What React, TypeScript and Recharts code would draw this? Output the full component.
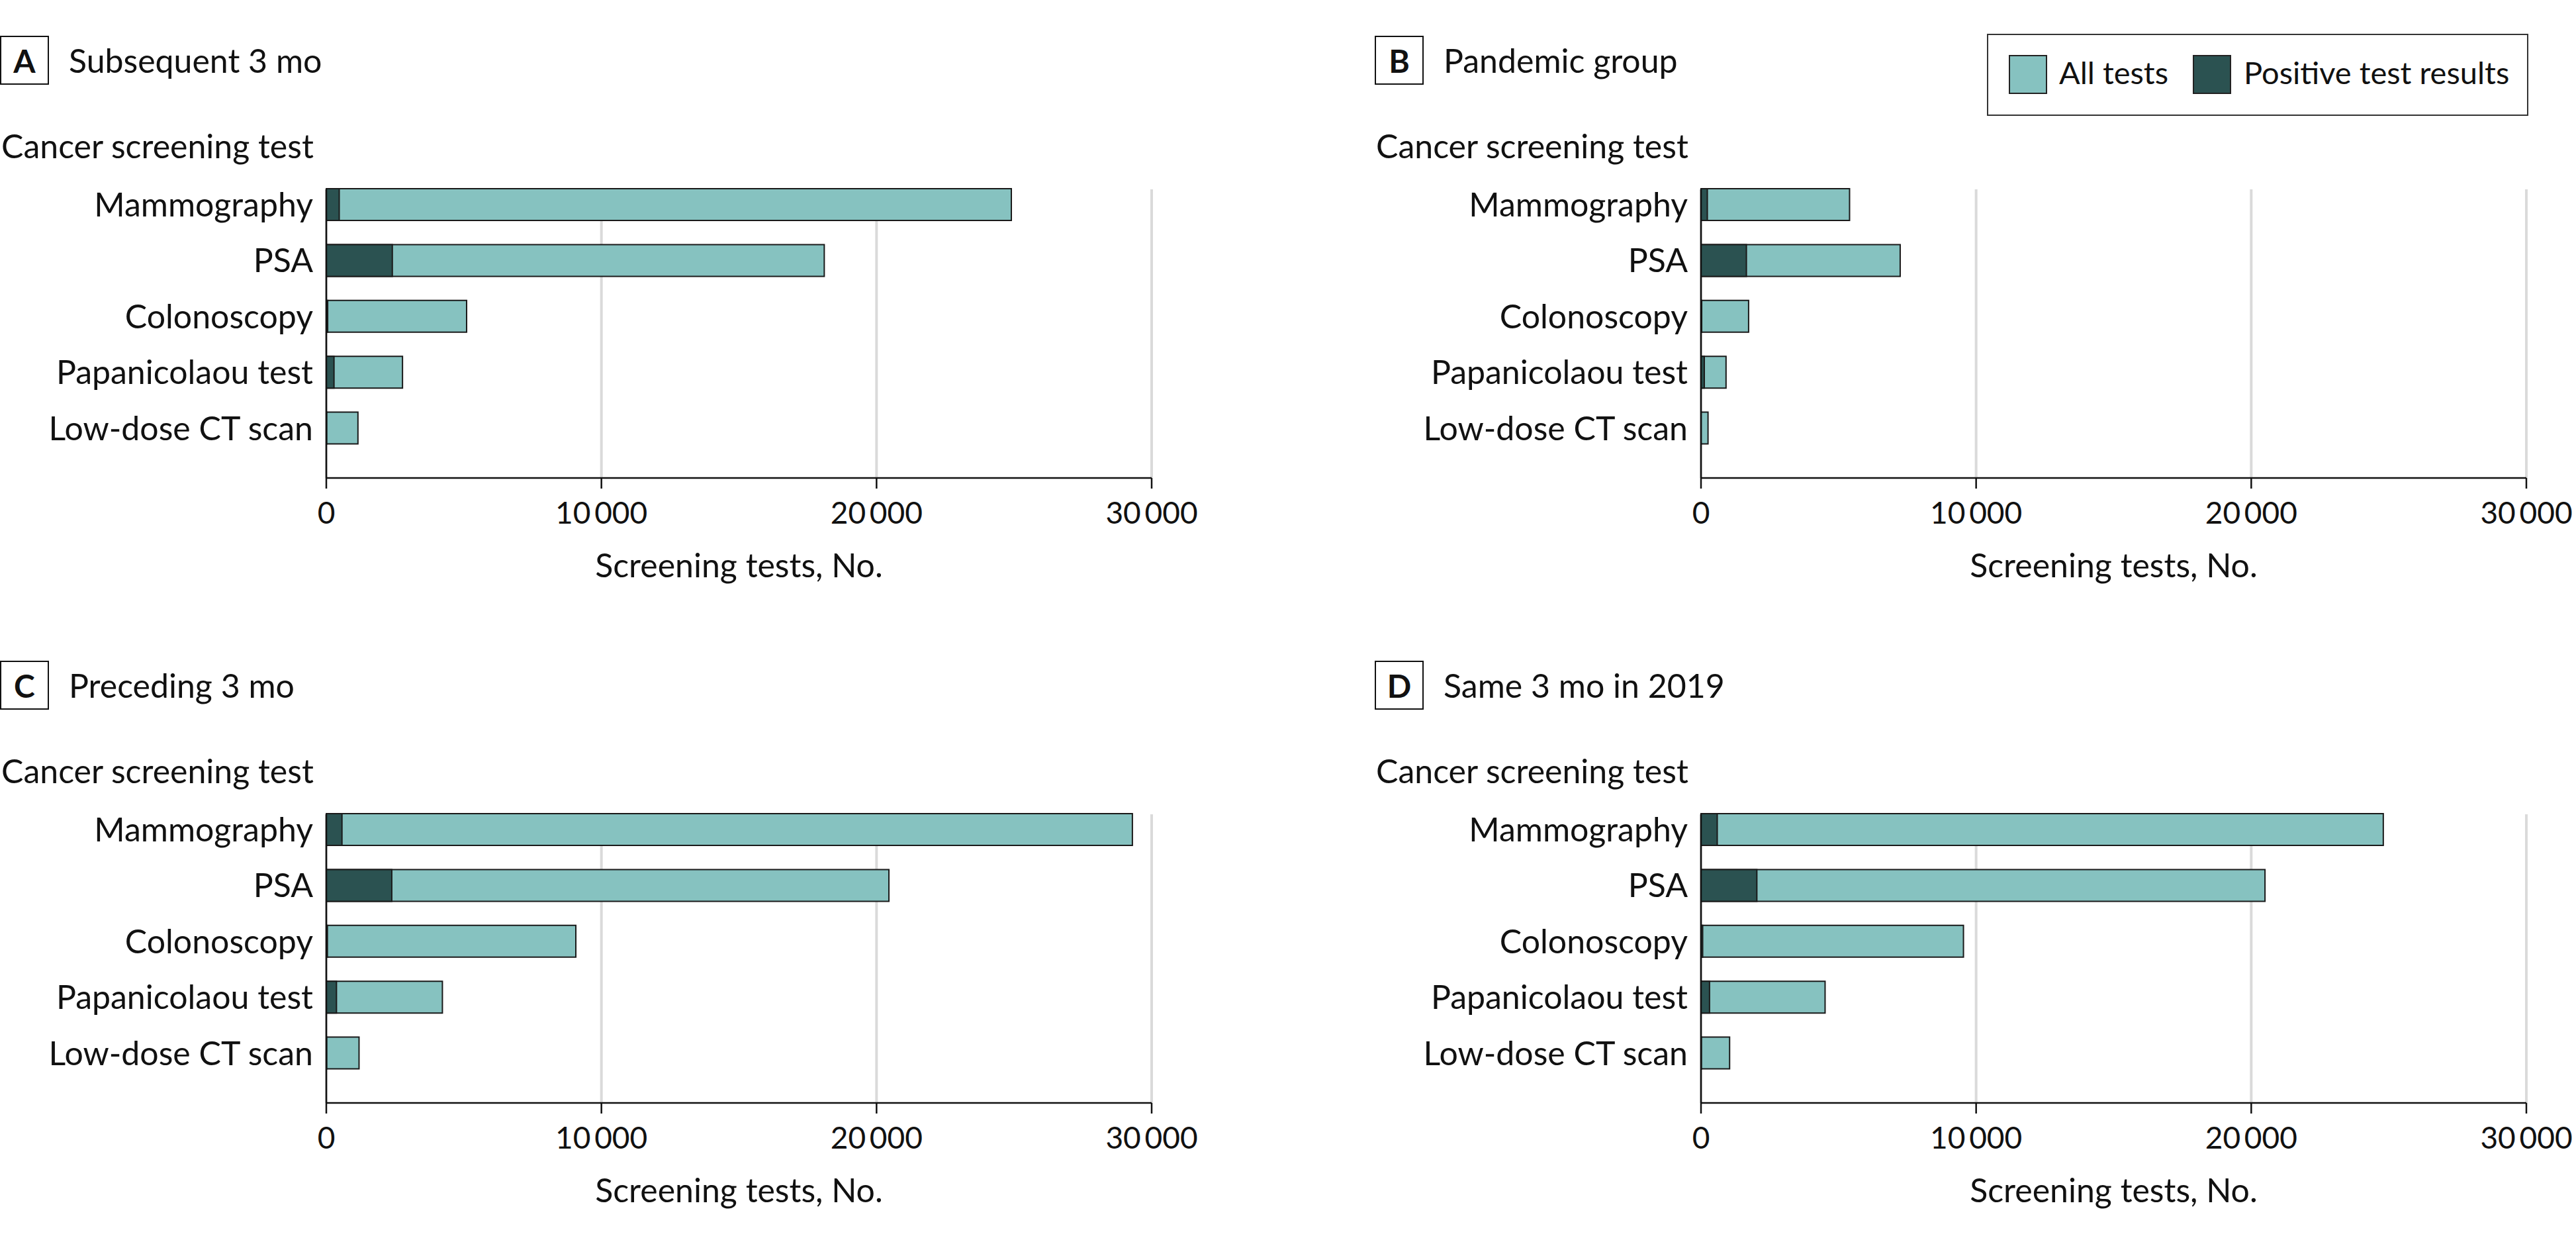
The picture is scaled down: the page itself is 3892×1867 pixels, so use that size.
import { BarChart, Bar, XAxis, YAxis, CartesianGrid } from 'recharts'

const categories = ['Mammography', 'PSA', 'Colonoscopy', 'Papanicolaou test', 'Low-dose CT scan']

const subsequentAll = [24900, 18100, 5100, 2770, 1150]
const subsequentPositive = [470, 2400, 50, 280, 15]

const pandemicAll = [5400, 7240, 1730, 910, 255]
const pandemicPositive = [230, 1650, 25, 120, 5]

const precedingAll = [29300, 20450, 9070, 4220, 1190]
const precedingPositive = [570, 2380, 40, 370, 15]

const sameAll = [24800, 20500, 9540, 4510, 1040]
const samePositive = [590, 2030, 60, 310, 15]

const xTicks = [0, 10000, 20000, 30000]

const LIGHT = '#86c2c0'
const DARK = '#2b5251'
const EDGE = '#1a1a1a'
const FONT = 'Lato, "Liberation Sans", Arial, sans-serif'

const fmt = (v: number) => String(v).replace(/\B(?=(\d{3})+(?!\d))/g, '\u2009')

interface PanelProps {
  left: number
  top: number
  width: number
  letter: string
  title: string
  all: number[]
  positive: number[]
}

function Panel({ left, top, width, letter, title, all, positive }: PanelProps) {
  const data = categories.map((name, i) => ({ name, all: all[i], positive: positive[i] }))
  const plotRight = 1740

  return (
    <div style={{ position: 'absolute', left, top, width, height: 920 }}>
      <div
        style={{
          position: 'absolute', left: 0, top: 54, width: 70, height: 70,
          border: '2px solid #111', display: 'flex', alignItems: 'center',
          justifyContent: 'center', fontWeight: 700, fontSize: 48, color: '#111',
        }}
      >
        {letter}
      </div>
      <div style={{ position: 'absolute', left: 104, top: 59, fontSize: 50, lineHeight: '64px', color: '#111', whiteSpace: 'nowrap' }}>
        {title}
      </div>
      <div style={{ position: 'absolute', left: 2, top: 188, fontSize: 50, lineHeight: '64px', color: '#111', whiteSpace: 'nowrap' }}>
        Cancer screening test
      </div>
      <div style={{ position: 'absolute', left: 0, top: 0 }}>
        <BarChart
          width={width}
          height={920}
          data={data}
          layout="vertical"
          barSize={48}
          barGap={-48}
          margin={{ top: 286, right: width - plotRight, bottom: 0, left: 0 }}
        >
          <CartesianGrid horizontal={false} stroke="#dadada" strokeWidth={4} />
          <XAxis
            type="number"
            domain={[0, 30000]}
            ticks={xTicks}
            tickFormatter={fmt}
            height={198}
            tickSize={16}
            tickMargin={20}
            axisLine={{ stroke: '#111', strokeWidth: 2.5 }}
            tickLine={{ stroke: '#111', strokeWidth: 2.5 }}
            tick={{ fontSize: 46, fill: '#111', fontFamily: FONT }}
            label={{ value: 'Screening tests, No.', position: 'insideBottom', offset: 48, fontSize: 50, fill: '#111', fontFamily: FONT }}
          />
          <YAxis
            type="category"
            dataKey="name"
            width={493}
            padding={{ top: -19, bottom: 33 }}
            tickSize={0}
            tickMargin={20}
            tickLine={false}
            axisLine={{ stroke: '#111', strokeWidth: 2.5 }}
            tick={{ fontSize: 50, fill: '#111', fontFamily: FONT }}
            interval={0}
          />
          <Bar dataKey="all" name="All tests" fill={LIGHT} stroke={EDGE} strokeWidth={2} isAnimationActive={false} />
          <Bar dataKey="positive" name="Positive test results" fill={DARK} stroke={EDGE} strokeWidth={2} isAnimationActive={false} />
        </BarChart>
      </div>
    </div>
  )
}

function LegendBox() {
  const swatch = (color: string, x: number) => (
    <div style={{ position: 'absolute', left: x, top: 30, width: 54, height: 55, background: color, border: '2px solid #222' }} />
  )
  const label = (text: string, x: number) => (
    <div style={{ position: 'absolute', left: x, top: 24, fontSize: 47, lineHeight: '64px', color: '#111', whiteSpace: 'nowrap' }}>{text}</div>
  )
  return (
    <div style={{ position: 'absolute', left: 3002, top: 51, width: 814, height: 120, border: '2px solid #333' }}>
      {swatch(LIGHT, 31)}
      {label('All tests', 107)}
      {swatch(DARK, 309)}
      {label('Positive test results', 386)}
    </div>
  )
}

export default function App() {
  return (
    <div style={{ position: 'absolute', left: 0, top: 0, width: 3892, height: 1867, background: '#fff', fontFamily: FONT, overflow: 'hidden' }}>
      <Panel left={0} top={0} width={1900} letter="A" title="Subsequent 3 mo" all={subsequentAll} positive={subsequentPositive} />
      <Panel left={2077} top={0} width={1815} letter="B" title="Pandemic group" all={pandemicAll} positive={pandemicPositive} />
      <Panel left={0} top={944} width={1900} letter="C" title="Preceding 3 mo" all={precedingAll} positive={precedingPositive} />
      <Panel left={2077} top={944} width={1815} letter="D" title="Same 3 mo in 2019" all={sameAll} positive={samePositive} />
      <LegendBox />
    </div>
  )
}
